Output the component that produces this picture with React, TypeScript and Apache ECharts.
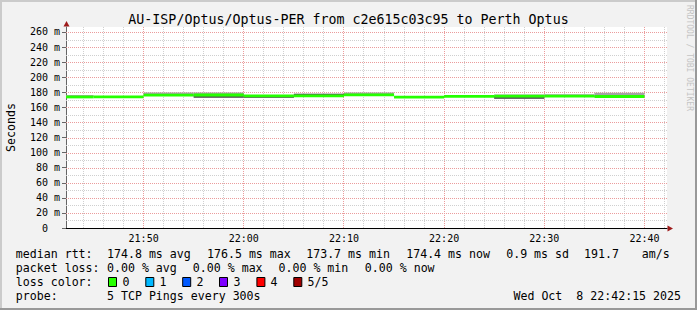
import React, { useEffect, useRef } from 'react';
import * as echarts from 'echarts';

// ---- data ----
const intervalEnd = ['21:45', '21:50', '21:55', '22:00', '22:05', '22:10', '22:15', '22:20', '22:25', '22:30', '22:35', '22:40'];
const pingMin = [173.6, 173.6, 175.9, 172.6, 172.4, 174.9, 175.9, 173.4, 174.1, 171.2, 174.6, 174.0];
const pingLow = [173.7, 173.7, 176.1, 172.8, 172.6, 175.1, 176.2, 173.5, 174.3, 171.5, 174.8, 174.2];
const medianRtt = [173.8, 173.8, 176.2, 176.4, 175.2, 175.3, 176.5, 173.7, 174.5, 174.8, 175.0, 174.4];
const pingHigh = [174.0, 173.9, 176.6, 176.6, 175.5, 178.0, 176.8, 173.9, 174.8, 175.1, 175.4, 175.0];
const pingMax = [176.3, 174.0, 179.8, 179.8, 175.8, 178.2, 179.8, 174.1, 175.0, 177.2, 177.5, 179.5];

const xTickLabels = ['21:50', '22:00', '22:10', '22:20', '22:30', '22:40'];
const xMinorTicks = ['21:44', '21:46', '21:48', '21:52', '21:54', '21:56', '21:58', '22:02', '22:04', '22:06', '22:08', '22:12', '22:14', '22:16', '22:18', '22:22', '22:24', '22:26', '22:28', '22:32', '22:34', '22:36', '22:38', '22:42'];
const yMajorTicks = [20, 40, 60, 80, 100, 120, 140, 160, 180, 200, 220, 240, 260];
const yMinorTicks = [10, 30, 50, 70, 90, 110, 130, 150, 170, 190, 210, 230, 250];

const titleText = 'AU-ISP/Optus/Optus-PER from c2e615c03c95 to Perth Optus';
const rttStats = ['174.8 ms avg', '176.5 ms max', '173.7 ms min', '174.4 ms now', '0.9 ms sd', '191.7', 'am/s'];
const lossStats = ['0.00 % avg', '0.00 % max', '0.00 % min', '0.00 % now'];
const lossLabels = ['0', '1', '2', '3', '4', '5/5'];
const lossColors = ['#26ff00', '#00b8ff', '#0059ff', '#7e00ff', '#ff0000', '#a00000'];
const probeText = '5 TCP Pings every 300s';
const dateText = 'Wed Oct  8 22:42:15 2025';

// ---- layout ----
const MONO = "'DejaVu Sans Mono', monospace";
const toMin = (s: string) => {
  const [h, m] = s.split(':').map(Number);
  return (h - 21) * 60 + m;
};
const X_MIN = 42.25; // 21:42:15
const X_MAX = 102.25; // 22:42:15
const Y_MAX = 266.6;
const STEP = 5;

const rttX = [107.0, 207.0, 306.2, 406.2, 506.2, 584.0, 641.7];
const lossX = [107.0, 192.8, 278.5, 364.8];
const boxX = [108, 145.3, 182.2, 219, 256.4, 293.3];
const boxLabelX = [122.5, 159.5, 196.5, 233.5, 270.5, 307.5];

function buildOption(): any {
  const smokeData = intervalEnd.map((e, i) => [toMin(e), pingMin[i], pingLow[i], medianRtt[i], pingHigh[i], pingMax[i]]);

  const vLine = (color: string) => (params: any, api: any) => {
    const t = api.value(0);
    const p0 = api.coord([t, 0]);
    const p1 = api.coord([t, Y_MAX]);
    const x = Math.floor(p0[0]) + 0.5;
    return { type: 'line', shape: { x1: x, y1: p0[1], x2: x, y2: p1[1] }, style: { stroke: color, lineWidth: 1, lineDash: [1, 1] }, silent: true };
  };
  const hLine = (color: string) => (params: any, api: any) => {
    const v = api.value(1);
    const p0 = api.coord([X_MIN, v]);
    const p1 = api.coord([X_MAX, v]);
    const y = Math.round(p0[1]) + 0.5;
    return { type: 'line', shape: { x1: p0[0], y1: y, x2: p1[0], y2: y }, style: { stroke: color, lineWidth: 1, lineDash: [1, 1] }, silent: true };
  };

  const minorColor = '#cfcfcf';
  const majorColor = '#eb9c9c';

  const text = (x: number, y: number, s: string, extra: any = {}) => ({
    type: 'text', x, y, silent: true,
    style: { text: s, fill: '#000', fontFamily: MONO, fontSize: 11.6, align: 'left', verticalAlign: 'middle', ...extra },
  });

  const graphics: any[] = [
    // frame shading
    { type: 'rect', shape: { x: 0, y: 0, width: 697, height: 2 }, style: { fill: '#cbcbcb' }, silent: true },
    { type: 'rect', shape: { x: 0, y: 0, width: 2, height: 310 }, style: { fill: '#cbcbcb' }, silent: true },
    { type: 'rect', shape: { x: 695, y: 0, width: 2, height: 310 }, style: { fill: '#999999' }, silent: true },
    { type: 'rect', shape: { x: 0, y: 308, width: 697, height: 2 }, style: { fill: '#999999' }, silent: true },
    // arrows
    { type: 'polygon', shape: { points: [[63.5, 26.5], [69.5, 26.5], [66.5, 21]] }, style: { fill: '#9e1a1a' }, silent: true },
    { type: 'polygon', shape: { points: [[667.5, 225.5], [667.5, 231.5], [673, 228.5]] }, style: { fill: '#9e1a1a' }, silent: true },
    // x-axis extension left
    { type: 'line', shape: { x1: 62, y1: 228.5, x2: 66, y2: 228.5 }, style: { stroke: '#000', lineWidth: 1 }, silent: true },
    // title
    text(348.5, 19, titleText, { fontSize: 13.3, align: 'center' }),
    // y axis name
    { type: 'text', x: 11, y: 127.5, rotation: Math.PI / 2, silent: true, style: { text: 'Seconds', fill: '#000', fontFamily: MONO, fontSize: 11.6, align: 'center', verticalAlign: 'middle' } },
    // watermark
    { type: 'text', x: 689, y: 5, rotation: -Math.PI / 2, silent: true, style: { text: 'RRDTOOL / TOBI OETIKER', fill: '#c4c4c4', fontFamily: MONO, fontSize: 8, align: 'left', verticalAlign: 'middle' } },
    // legend rows
    text(15.8, 254, 'median rtt:'),
    ...rttStats.map((s, i) => text(rttX[i], 254, s)),
    text(15.8, 268, 'packet loss:'),
    ...lossStats.map((s, i) => text(lossX[i], 268, s)),
    text(15.8, 282, 'loss color:'),
    ...lossColors.map((c, i) => ({ type: 'rect', shape: { x: boxX[i] + 0.5, y: 277.5, width: 8, height: 9 }, style: { fill: c, stroke: '#000', lineWidth: 1 }, silent: true })),
    ...lossLabels.map((s, i) => text(boxLabelX[i], 282, s)),
    text(15.8, 296, 'probe:'),
    text(107.0, 296, probeText),
    text(681, 296, dateText, { align: 'right' }),
  ];

  return {
    animation: false,
    backgroundColor: '#f2f2f2',
    grid: { left: 66, right: 30, top: 27, bottom: 82, show: true, backgroundColor: '#ffffff', borderWidth: 0 },
    xAxis: {
      type: 'value', min: X_MIN, max: X_MAX,
      axisLine: { show: true, lineStyle: { color: '#000', width: 1 } },
      axisTick: { show: false },
      splitLine: { show: false },
      axisLabel: {
        customValues: xTickLabels.map(toMin),
        formatter: (v: number) => {
          const h = 21 + Math.floor(v / 60);
          const m = Math.round(v % 60);
          return `${h}:${String(m).padStart(2, '0')}`;
        },
        fontFamily: MONO, fontSize: 10, color: '#000', margin: 5,
      },
    },
    yAxis: {
      type: 'value', min: 0, max: Y_MAX,
      axisLine: { show: true, lineStyle: { color: '#666', width: 1 } },
      axisTick: { show: true, customValues: [0, ...yMajorTicks], length: 4, lineStyle: { color: '#666' } },
      splitLine: { show: false },
      axisLabel: {
        customValues: [0, ...yMajorTicks],
        formatter: (v: number) => (v === 0 ? '0\u00a0\u00a0' : `${v} m`),
        fontFamily: MONO, fontSize: 10, color: '#000', margin: 6,
      },
    },
    graphic: graphics,
    series: [
      { type: 'custom', z: 1, data: xMinorTicks.map((t) => [toMin(t), 0]), renderItem: vLine(minorColor), silent: true },
      { type: 'custom', z: 1, data: yMinorTicks.map((v) => [X_MIN, v]), renderItem: hLine(minorColor), silent: true },
      { type: 'custom', z: 2, data: xTickLabels.map((t) => [toMin(t), 0]), renderItem: vLine(majorColor), silent: true },
      { type: 'custom', z: 2, data: yMajorTicks.map((v) => [X_MIN, v]), renderItem: hLine(majorColor), silent: true },
      {
        type: 'custom', z: 5, silent: true,
        dimensions: ['end', 'min', 'low', 'median', 'high', 'max'],
        encode: { x: 0, y: [1, 2, 3, 4, 5] },
        data: smokeData,
        renderItem: (params: any, api: any) => {
          const end = api.value(0);
          const start = Math.max(end - STEP, X_MIN);
          const lo = api.value(1), l2 = api.value(2), med = api.value(3), h2 = api.value(4), hi = api.value(5);
          const a = api.coord([start, hi]);
          const b = api.coord([end, lo]);
          const c = api.coord([start, h2]);
          const d = api.coord([end, l2]);
          const m = api.coord([start, med]);
          const x0 = a[0];
          const w = b[0] - a[0];
          return {
            type: 'group',
            children: [
              { type: 'rect', shape: { x: x0, y: a[1], width: w, height: Math.max(b[1] - a[1], 0) }, style: { fill: '#a4a4a4' } },
              { type: 'rect', shape: { x: x0, y: c[1], width: w, height: Math.max(d[1] - c[1], 0) }, style: { fill: '#585858' } },
              { type: 'rect', shape: { x: x0, y: m[1] - 1.4, width: w, height: 2.8 }, style: { fill: '#26ff00' } },
            ],
          };
        },
      },
    ],
  };
}

export default function App() {
  const ref = useRef<HTMLDivElement>(null);
  useEffect(() => {
    if (!ref.current) return;
    const chart = echarts.init(ref.current, null, { renderer: 'svg' });
    chart.setOption(buildOption());
    return () => chart.dispose();
  }, []);
  return <div ref={ref} style={{ position: 'fixed', left: 0, top: 0, width: 697, height: 310 }} />;
}
